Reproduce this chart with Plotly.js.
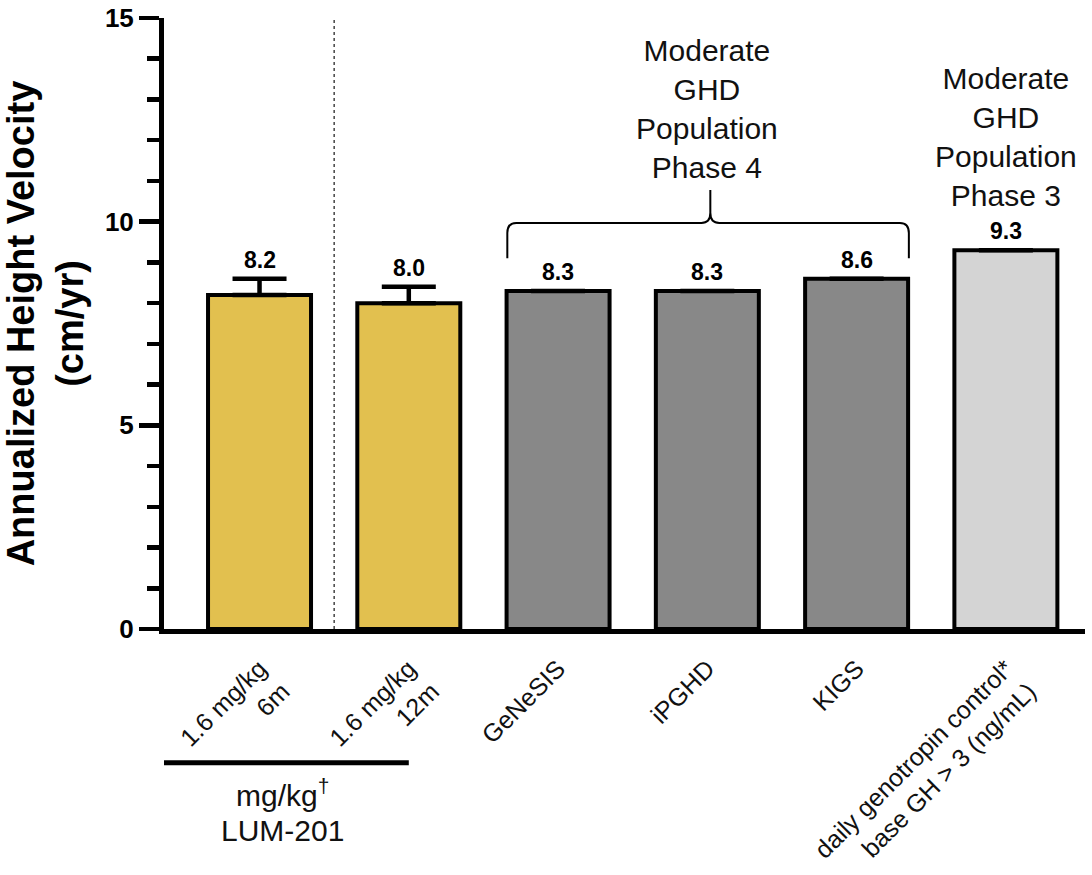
<!DOCTYPE html>
<html>
<head>
<meta charset="utf-8">
<script src="https://cdn.plot.ly/plotly-3.0.1.min.js"></script>
<style>html,body{margin:0;padding:0;background:#fff;}#chart{width:1092px;height:875px;}</style>
</head>
<body>
<div id="chart"></div>
<script>
// ---- data ----
const categories = ["1.6 mg/kg 6m", "1.6 mg/kg 12m", "GeNeSIS", "iPGHD", "KIGS", "daily genotropin control* base GH > 3 (ng/mL)"];
const tickLabels = ["1.6 mg/kg<br>6m", "1.6 mg/kg<br>12m", "GeNeSIS", "iPGHD", "KIGS", "daily genotropin control*<br>base GH > 3 (ng/mL)"];
const values = [8.2, 8.0, 8.3, 8.3, 8.6, 9.3];
const errorsUp = [0.4, 0.4, null, null, null, null];
const valueLabels = ["8.2", "8.0", "8.3", "8.3", "8.6", "9.3"];
const barColors = ["#E2C04F", "#E2C04F", "#888888", "#888888", "#888888", "#D4D4D4"];
const phase4Text = "Moderate<br>GHD<br>Population<br>Phase 4";
const phase3Text = "Moderate<br>GHD<br>Population<br>Phase 3";
const groupLabel = "mg/kg<sup>†</sup>";
const groupName = "LUM-201";
const yTicks = [0, 5, 10, 15];

const FONT = '"Liberation Sans", Arial, Helvetica, sans-serif';
const xIdx = categories.map((_, i) => i);

const trace = {
  type: 'bar',
  x: xIdx,
  y: values,
  width: 0.69,
  marker: {color: barColors, line: {color: '#000', width: 4}},
  error_y: {type: 'data', symmetric: false, array: errorsUp, arrayminus: errorsUp.map(() => 0),
            color: '#000', thickness: 4.5, width: 27, visible: true},
  hoverinfo: 'skip',
  showlegend: false
};

const annotations = xIdx.map(i => ({
  x: i, y: values[i] + (errorsUp[i] || 0), xref: 'x', yref: 'y',
  text: valueLabels[i], showarrow: false, yanchor: 'bottom', yshift: 4,
  font: {family: FONT, size: 23, color: '#000', weight: 'bold'}
}));
annotations.push(
  {x: 3.0, y: 12.77, xref: 'x', yref: 'y', text: phase4Text, showarrow: false,
   yanchor: 'middle', font: {family: FONT, size: 30, color: '#111'}},
  {x: 5.0, y: 12.09, xref: 'x', yref: 'y', text: phase3Text, showarrow: false,
   yanchor: 'middle', font: {family: FONT, size: 30, color: '#111'}},
  {x: 0.157, y: -0.268, xref: 'x', yref: 'paper', text: groupLabel, showarrow: false,
   yanchor: 'middle', font: {family: FONT, size: 30, color: '#111'}},
  {x: 0.157, y: -0.329, xref: 'x', yref: 'paper', text: groupName, showarrow: false,
   yanchor: 'middle', font: {family: FONT, size: 30, color: '#111'}}
);

const bracePath = 'M 1.66,9.10 L 1.66,9.72 Q 1.66,9.97 1.72,9.97 L 2.96,9.97 Q 3.02,9.97 3.02,10.22 L 3.02,10.78 ' +
                  'M 3.02,10.22 Q 3.02,9.97 3.08,9.97 L 4.29,9.97 Q 4.35,9.97 4.35,9.72 L 4.35,9.10';

const shapes = [
  {type: 'line', xref: 'x', yref: 'y', x0: 0.5, x1: 0.5, y0: 0, y1: 15,
   line: {color: '#444', width: 1.5, dash: 'dot'}, layer: 'below'},
  {type: 'path', xref: 'x', yref: 'y', path: bracePath, line: {color: '#000', width: 2}},
  {type: 'line', xref: 'x', yref: 'paper', x0: -0.667, x1: 1.0, y0: -0.219, y1: -0.219,
   line: {color: '#000', width: 5}}
];

const layout = {
  width: 1092, height: 875,
  margin: {l: 164, r: 7, t: 18, b: 246},
  paper_bgcolor: '#fff', plot_bgcolor: '#fff',
  font: {family: FONT, color: '#000'},
  showlegend: false,
  xaxis: {
    range: [-0.64, 5.53], tickvals: xIdx, ticktext: tickLabels, tickangle: -45,
    showgrid: false, zeroline: false, showline: true, linecolor: '#000', linewidth: 5,
    ticks: '', ticklabelstandoff: 10, tickfont: {family: FONT, size: 25, color: '#111'}
  },
  yaxis: {
    range: [0, 15], tickvals: yTicks, showgrid: false, zeroline: false,
    showline: true, linecolor: '#000', linewidth: 5,
    ticks: 'outside', ticklen: 20, tickwidth: 4.5, tickcolor: '#000',
    minor: {dtick: 1, ticks: 'outside', ticklen: 12, tickwidth: 4.5, tickcolor: '#000', showgrid: false},
    tickfont: {family: FONT, size: 26, color: '#000', weight: 'bold'},
    title: {text: 'Annualized Height Velocity<br>(cm/yr)', standoff: 22,
            font: {family: FONT, size: 38, color: '#000', weight: 'bold'}}
  },
  annotations: annotations,
  shapes: shapes
};

Plotly.newPlot('chart', [trace], layout, {displayModeBar: false, staticPlot: true});
</script>
</body>
</html>
